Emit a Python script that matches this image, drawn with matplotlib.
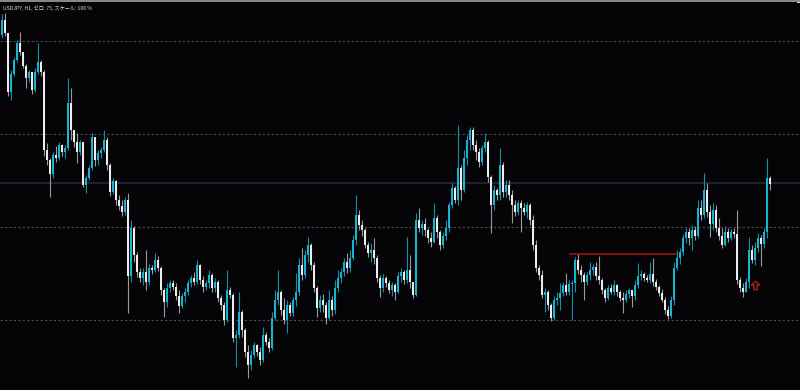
import matplotlib
matplotlib.use("Agg")
import matplotlib.pyplot as plt
from matplotlib.path import Path
from matplotlib.lines import Line2D
from matplotlib.patches import Rectangle

# ---------------- data (USDJPY H1, prices as points above 110.000) ----------------
symbol_title = "USDJPY, H1, ゼロ: 75, スケール: 100 %"
base_price = 110.0
point = 0.001
first_open_pts = 613
close_pts = [645, 617, 490, 529, 559, 596, 576, 546, 520, 533, 495, 533, 555, 533, 366, 344, 314, 355, 348, 376,
             361, 370, 467, 409, 383, 361, 383, 290, 305, 327, 393, 344, 359, 366, 387, 333, 275, 299, 258, 245,
             232, 258, 95, 198, 140, 103, 90, 103, 82, 112, 108, 129, 112, 65, 39, 69, 80, 71, 52, 30,
             52, 60, 80, 90, 82, 118, 86, 71, 80, 97, 69, 82, 47, 32, 0, 65, 54, -39, -32, 17,
             -22, -69, -97, -75, -54, -69, -86, -32, -47, -60, 4, 43, 60, 22, 0, 32, 15, 43, 60, 118,
             97, 140, 161, 118, 69, 26, 43, 32, 4, 43, 22, 69, 90, 103, 125, 112, 133, 172, 226, 204,
             194, 161, 144, 151, 133, 90, 69, 90, 80, 65, 75, 60, 95, 103, 86, 108, 82, 54, 215, 198,
             206, 194, 176, 168, 219, 189, 161, 181, 198, 247, 284, 258, 327, 280, 348, 387, 409, 376, 361, 340,
             370, 383, 307, 247, 280, 269, 333, 275, 290, 269, 247, 232, 252, 241, 232, 247, 215, 161, 112, 97,
             54, 60, 32, 4, 43, 47, 58, 75, 60, 77, 80, 129, 108, 97, 82, 97, 108, 114, 95, 86,
             65, 47, 69, 60, 75, 60, 47, 43, 56, 65, 52, 75, 95, 99, 90, 86, 99, 82, 71, 58,
             43, 22, 9, 43, 112, 133, 146, 176, 189, 176, 194, 181, 241, 226, 280, 232, 206, 237, 198, 181,
             161, 189, 176, 189, 185, 86, 69, 60, 82, 151, 129, 155, 176, 163, 189, 305, 292]
high_pts = [658, 660, 613, 538, 565, 602, 619, 576, 550, 538, 533, 542, 596, 559, 538, 381, 348, 361, 374, 383,
            378, 376, 520, 499, 409, 402, 387, 376, 312, 333, 402, 391, 366, 372, 409, 393, 338, 305, 301, 269,
            258, 264, 273, 215, 202, 146, 112, 112, 151, 120, 118, 144, 138, 116, 69, 80, 86, 86, 80, 65,
            58, 69, 86, 97, 103, 129, 120, 95, 86, 108, 101, 90, 86, 54, 39, 108, 71, 58, -22, 60,
            22, -17, -54, -65, -47, -52, -58, -15, -26, -39, 17, 65, 108, 65, 47, 43, 39, 49, 101, 133,
            155, 151, 178, 166, 125, 73, 54, 56, 39, 65, 52, 86, 108, 112, 133, 144, 151, 183, 269, 237,
            215, 198, 168, 166, 176, 140, 97, 99, 95, 86, 82, 80, 103, 112, 108, 178, 140, 75, 230, 241,
            215, 219, 198, 189, 252, 226, 194, 189, 215, 254, 295, 288, 419, 333, 366, 398, 415, 415, 387, 370,
            376, 402, 387, 312, 290, 284, 370, 340, 301, 301, 280, 258, 258, 258, 252, 254, 252, 226, 172, 118,
            108, 69, 65, 37, 52, 60, 80, 82, 101, 86, 86, 135, 144, 118, 103, 103, 125, 120, 125, 138,
            90, 69, 75, 77, 86, 77, 65, 60, 65, 69, 65, 86, 123, 108, 103, 97, 125, 133, 88, 75,
            67, 49, 30, 52, 125, 151, 155, 185, 198, 198, 204, 202, 258, 258, 316, 295, 247, 252, 247, 219,
            198, 202, 198, 196, 198, 237, 92, 80, 90, 178, 161, 168, 187, 183, 198, 348, 310]
low_pts = [606, 611, 482, 473, 525, 555, 570, 542, 499, 512, 486, 490, 529, 525, 353, 333, 264, 305, 340, 344,
           353, 348, 366, 387, 372, 338, 355, 286, 273, 301, 323, 331, 333, 348, 361, 323, 267, 271, 247, 237,
           224, 226, 15, 82, 125, 92, 82, 75, 65, 75, 99, 103, 105, 54, 6, 28, 60, 65, 43, 15,
           26, 39, 54, 71, 75, 77, 77, 60, 65, 69, 60, 60, 39, 22, -11, -4, 47, -47, -101, -39,
           -37, -80, -125, -108, -82, -77, -97, -90, -54, -69, -65, 0, 32, 11, -9, -28, 9, 9, 30, 54,
           86, 90, 125, 108, 60, 6, 17, 17, -9, 0, 9, 13, 60, 80, 95, 101, 103, 129, 161, 194,
           181, 155, 135, 125, 120, 82, 49, 60, 71, 58, 52, 43, 58, 82, 77, 80, 69, 47, 52, 189,
           183, 181, 166, 157, 166, 176, 151, 155, 172, 189, 241, 252, 247, 258, 275, 333, 366, 366, 344, 329,
           333, 361, 297, 187, 237, 258, 258, 264, 264, 258, 209, 224, 226, 189, 226, 219, 204, 151, 103, 86,
           47, 17, 22, -2, 0, 32, 22, 52, 54, 54, 0, 60, 99, 82, 43, 75, 86, 97, 86, 77,
           56, 39, 43, 56, 54, 52, 41, 15, 39, 47, 28, 43, 69, 86, 84, 82, 80, 73, 65, 52,
           39, 13, 2, 4, 32, 108, 120, 140, 166, 161, 151, 172, 176, 215, 219, 221, 178, 194, 189, 172,
           155, 159, 168, 172, 176, 77, 60, 49, 65, 69, 123, 118, 146, 116, 155, 176, 280]

grid_levels = [110.0, 110.2, 110.4, 110.6]
hline_level = 110.295
resistance_level = 110.142
resistance_from_bar, resistance_to_bar = 189, 225
signal_bar, signal_price = 251, 110.075

# ---------------- styling ----------------
BG = "#050507"
UP_BODY = "#19b4cf"
UP_WICK = "#138fa8"
DN_BODY = "#ececec"
DN_WICK = "#9a9a9a"

fig = plt.figure(figsize=(8.0, 3.9), dpi=100, facecolor=BG)
ax = fig.add_axes([0, 0, 1, 1])
ax.set_facecolor(BG)
for s in ax.spines.values():
    s.set_visible(False)
ax.set_xticks([])
ax.set_yticks([])

closes = [base_price + c * point for c in close_pts]
highs = [base_price + h * point for h in high_pts]
lows = [base_price + l * point for l in low_pts]
opens = [base_price + first_open_pts * point] + closes[:-1]
n = len(closes)

ax.set_xlim(-2 / 3, 266)
ax.set_ylim(109.8495, 110.688)

for g in grid_levels:
    ax.axhline(g, color="#4c4c4c", lw=0.8, ls=(0, (2, 2)), zorder=1)
ax.axhline(hline_level, color="#29263f", lw=1.2, zorder=1)

body_w = 0.62
for i in range(n):
    o, c, h, l = opens[i], closes[i], highs[i], lows[i]
    up = c >= o
    wick = UP_WICK if up else DN_WICK
    body = UP_BODY if up else DN_BODY
    ax.vlines(i, min(l, o, c), max(h, o, c), color=wick, lw=0.8, zorder=2)
    lo_b, hi_b = min(o, c), max(o, c)
    if hi_b - lo_b < 0.002:
        ax.hlines((o + c) / 2, i - body_w / 2, i + body_w / 2, color=body, lw=0.8, zorder=3)
    else:
        ax.add_patch(Rectangle((i - body_w / 2, lo_b), body_w, hi_b - lo_b,
                               facecolor=body, edgecolor="none", lw=0, zorder=3))

ax.hlines(resistance_level, resistance_from_bar, resistance_to_bar, color="#8a1212", lw=1.3, zorder=4)

arrow = Path([(0, 1), (1, 0.1), (0.4, 0.1), (0.4, -1), (-0.4, -1), (-0.4, 0.1), (-1, 0.1), (0, 1)],
             [Path.MOVETO] + [Path.LINETO] * 6 + [Path.CLOSEPOLY])
ax.plot([signal_bar], [signal_price], marker=arrow, markersize=6, markerfacecolor="none",
        markeredgecolor="#b82418", markeredgewidth=0.9, ls="none", zorder=5)

fig.add_artist(Line2D([0, 1], [0.998, 0.998], color="#8c8c8c", lw=1.4))
fig.add_artist(Rectangle((0.996, 0.992), 0.004, 0.008, facecolor="#e0e0e0", edgecolor="none",
                         transform=fig.transFigure))
fig.text(0.004, 0.988, symbol_title, color="#d8d8d8", fontsize=3.7, va="top", ha="left",
         family=["Noto Sans CJK JP", "DejaVu Sans"])

fig.savefig("out.png", dpi=100, facecolor=BG)
